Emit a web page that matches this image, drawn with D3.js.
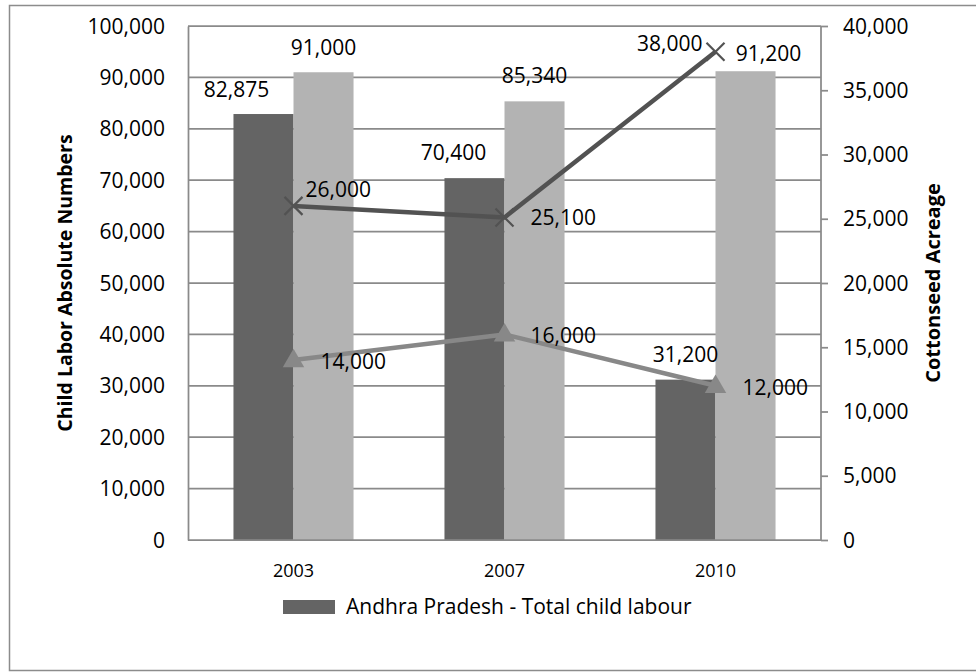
<!DOCTYPE html>
<html>
<head>
<meta charset="utf-8">
<script src="https://cdn.jsdelivr.net/npm/d3@7"></script>
<style>
  html, body { margin: 0; padding: 0; background: #ffffff; }
  svg { display: block; font-family: "Open Sans", "Noto Sans", sans-serif; }
</style>
</head>
<body>
<svg id="chart" width="976" height="672"></svg>
<script>
// ---- data ----
const categories = ["2003", "2007", "2010"];
const childLabour = [82875, 70400, 31200];      // dark bars (left axis)
const secondBars = [91000, 85340, 91200];       // light bars (left axis)
const darkLine = [26000, 25100, 38000];         // dark line, X markers (right axis)
const lightLine = [14000, 16000, 12000];        // light line, triangle markers (right axis)
const leftTicks = [0, 10000, 20000, 30000, 40000, 50000, 60000, 70000, 80000, 90000, 100000];
const rightTicks = [0, 5000, 10000, 15000, 20000, 25000, 30000, 35000, 40000];
const leftTitle = "Child Labor Absolute Numbers";
const rightTitle = "Cottonseed Acreage";
const legendLabel = "Andhra Pradesh - Total child labour";

// ---- layout ----
const plot = { left: 188, right: 821, top: 26, bottom: 540 };
const C = {
  dark: "#646464", light: "#b3b3b3",
  darkLine: "#525252", lightLine: "#888888",
  grid: "#8a8a8a", text: "#000000"
};
const fmt = d3.format(",");

const svg = d3.select("#chart");

// outer frame
svg.append("rect").attr("x", 9.5).attr("y", 5.5).attr("width", 980).attr("height", 665)
  .attr("fill", "#fff").attr("stroke", "#8c8c8c").attr("stroke-width", 1.5);

const x = d3.scaleBand().domain(categories).range([plot.left, plot.right])
  .paddingInner(0.431).paddingOuter(0.2155);
const xSub = d3.scaleBand().domain(["a", "b"]).range([0, x.bandwidth()]);
const yL = d3.scaleLinear().domain([0, 100000]).range([plot.bottom, plot.top]);
const yR = d3.scaleLinear().domain([0, 40000]).range([plot.bottom, plot.top]);
const cx = c => x(c) + x.bandwidth() / 2;

// gridlines
svg.append("g").selectAll("line").data(leftTicks.filter(d => d > 0)).join("line")
  .attr("x1", plot.left).attr("x2", plot.right)
  .attr("y1", d => yL(d)).attr("y2", d => yL(d))
  .attr("stroke", C.grid).attr("stroke-width", 1.75);

// bars
const barG = svg.append("g");
barG.selectAll("rect.a").data(categories).join("rect").attr("class", "a")
  .attr("x", c => x(c) + xSub("a")).attr("width", xSub.bandwidth())
  .attr("y", (c, i) => yL(childLabour[i])).attr("height", (c, i) => yL(0) - yL(childLabour[i]))
  .attr("fill", C.dark);
barG.selectAll("rect.b").data(categories).join("rect").attr("class", "b")
  .attr("x", c => x(c) + xSub("b")).attr("width", xSub.bandwidth())
  .attr("y", (c, i) => yL(secondBars[i])).attr("height", (c, i) => yL(0) - yL(secondBars[i]))
  .attr("fill", C.light);

// axes
const leftAxis = d3.axisLeft(yL).tickValues(leftTicks).tickSize(0).tickPadding(23).tickFormat(fmt);
const gL = svg.append("g").attr("transform", `translate(${plot.left},0)`).call(leftAxis);
gL.select(".domain").attr("stroke", C.grid).attr("stroke-width", 1.75);
gL.selectAll("text").attr("font-size", 21).attr("fill", C.text)
  .attr("font-family", "Open Sans").attr("dy", "0.34em");

const rightAxis = d3.axisRight(yR).tickValues(rightTicks).tickSize(7).tickPadding(15).tickFormat(fmt);
const gR = svg.append("g").attr("transform", `translate(${plot.right},0)`).call(rightAxis);
gR.select(".domain").attr("stroke", C.grid).attr("stroke-width", 1.75).attr("d", `M0,${plot.top}V${plot.bottom}`);
gR.selectAll(".tick line").attr("stroke", C.grid).attr("stroke-width", 1.75);
gR.selectAll("text").attr("font-size", 21).attr("fill", C.text)
  .attr("font-family", "Open Sans").attr("dy", "0.34em");

const bottomAxis = d3.axisBottom(x).tickSize(0).tickPadding(24);
const gB = svg.append("g").attr("transform", `translate(0,${plot.bottom})`).call(bottomAxis);
gB.select(".domain").attr("stroke", C.grid).attr("stroke-width", 1.75).attr("d", `M${plot.left},0H${plot.right}`);
gB.selectAll("text").attr("font-size", 18).attr("fill", C.text).attr("font-family", "Open Sans");

// lines
const lineGen = (vals) => d3.line().x((v, i) => cx(categories[i])).y(v => yR(v))(vals);
svg.append("path").attr("d", lineGen(lightLine)).attr("fill", "none")
  .attr("stroke", C.lightLine).attr("stroke-width", 4.5).attr("stroke-linejoin", "round");
svg.append("path").attr("d", lineGen(darkLine)).attr("fill", "none")
  .attr("stroke", C.darkLine).attr("stroke-width", 4.5).attr("stroke-linejoin", "round");

// markers
const tri = d3.symbol().type(d3.symbolTriangle).size(200);
svg.append("g").selectAll("path").data(lightLine).join("path")
  .attr("d", tri).attr("fill", C.lightLine)
  .attr("transform", (v, i) => `translate(${cx(categories[i])},${yR(v) + 1})`);
svg.append("g").selectAll("path").data(darkLine).join("path")
  .attr("d", () => { const s = 9; return `M${-s},${-s}L${s},${s}M${-s},${s}L${s},${-s}`; })
  .attr("stroke", C.darkLine).attr("stroke-width", 2.2).attr("fill", "none")
  .attr("transform", (v, i) => `translate(${cx(categories[i])},${yR(v)})`);

// data labels
const lab = svg.append("g").attr("font-size", 21).attr("fill", C.text);
// bar labels: [x nudge, baseline gap above bar]
const darkBarNudge = [[-27, 17], [-21, 18], [0, 18]];
const lightBarNudge = [[0, 17], [0, 18], [23, 10]];
categories.forEach((c, i) => {
  lab.append("text").attr("text-anchor", "middle")
    .attr("x", x(c) + xSub("a") + xSub.bandwidth() / 2 + darkBarNudge[i][0])
    .attr("y", yL(childLabour[i]) - darkBarNudge[i][1]).text(fmt(childLabour[i]));
  lab.append("text").attr("text-anchor", "middle")
    .attr("x", x(c) + xSub("b") + xSub.bandwidth() / 2 + lightBarNudge[i][0])
    .attr("y", yL(secondBars[i]) - lightBarNudge[i][1]).text(fmt(secondBars[i]));
});
// line labels: [anchor, dx, dy]
const darkLineNudge = [["start", 12, -9], ["start", 26, 8], ["end", -13, -1]];
const lightLineNudge = [["start", 27, 9], ["start", 26, 9], ["start", 27, 9]];
darkLine.forEach((v, i) => {
  const n = darkLineNudge[i];
  lab.append("text").attr("text-anchor", n[0])
    .attr("x", cx(categories[i]) + n[1]).attr("y", yR(v) + n[2]).text(fmt(v));
});
lightLine.forEach((v, i) => {
  const n = lightLineNudge[i];
  lab.append("text").attr("text-anchor", n[0])
    .attr("x", cx(categories[i]) + n[1]).attr("y", yR(v) + n[2]).text(fmt(v));
});

// axis titles
const midY = (plot.top + plot.bottom) / 2;
svg.append("text").attr("transform", `translate(72,${midY}) rotate(-90)`)
  .attr("text-anchor", "middle").attr("font-size", 19.5).attr("font-weight", "bold")
  .attr("fill", C.text).text(leftTitle);
svg.append("text").attr("transform", `translate(940,${midY}) rotate(-90)`)
  .attr("text-anchor", "middle").attr("font-size", 20).attr("font-weight", "bold")
  .attr("fill", C.text).text(rightTitle);

// legend
const lg = svg.append("g");
lg.append("rect").attr("x", 283).attr("y", 600).attr("width", 52).attr("height", 14).attr("fill", C.dark);
lg.append("text").attr("x", 346).attr("y", 614).attr("font-size", 21).attr("fill", C.text).text(legendLabel);
</script>
</body>
</html>
